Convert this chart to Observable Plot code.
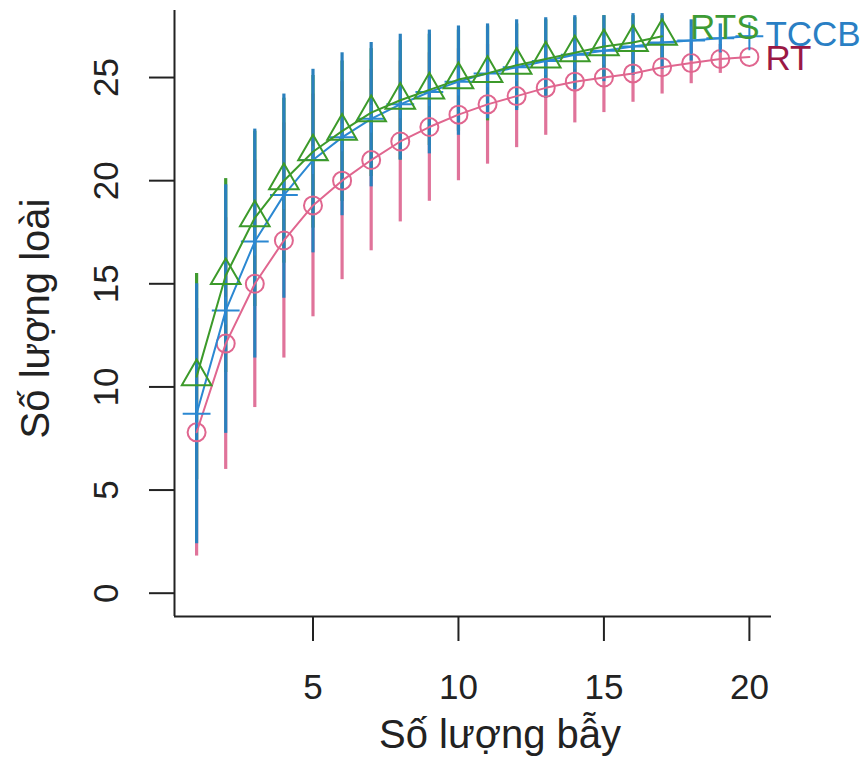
<!DOCTYPE html>
<html><head><meta charset="utf-8">
<script src="https://cdn.jsdelivr.net/npm/d3@7"></script>
<script src="https://cdn.jsdelivr.net/npm/@observablehq/plot@0.6"></script>
<style>body{margin:0;background:#fff}</style>
</head><body><div id="chart"></div>
<script>
const traps = [1,2,3,4,5,6,7,8,9,10,11,12,13,14,15,16,17,18,19,20];
const trapsRTS = [1,2,3,4,5,6,7,8,9,10,11,12,13,14,15,16,17];
const xTicks = [5,10,15,20];
const yTicks = [0,5,10,15,20,25];

const rtMean = [7.8,12.1,15.0,17.1,18.8,20.0,21.0,21.9,22.6,23.2,23.7,24.1,24.5,24.8,25.0,25.2,25.5,25.7,25.9,26.0];
const rtLo   = [1.8,6.0,9.0,11.4,13.4,15.2,16.6,18.0,19.0,20.0,20.8,21.6,22.2,22.8,23.3,23.8,24.2,24.7,25.2,26.0];
const rtHi   = [13.8,18.2,21.0,22.8,24.2,24.8,25.4,25.8,26.2,26.4,26.6,26.6,26.8,26.8,26.7,26.6,26.8,26.7,26.6,26.0];

const rtsMean = [10.5,15.4,18.2,20.0,21.4,22.4,23.3,23.9,24.4,24.9,25.2,25.6,25.9,26.2,26.5,26.7,27.0];
const rtsLo   = [5.5,10.7,13.9,16.0,17.7,19.0,20.2,21.0,21.7,22.4,22.9,23.5,24.0,24.5,25.0,25.4,25.9];
const rtsHi   = [15.5,20.1,22.4,24.0,25.1,25.8,26.4,26.8,27.1,27.3,27.5,27.6,27.8,27.9,28.0,28.0,28.0];

const tccbMean = [8.7,13.7,17.05,19.3,21.0,22.1,23.0,23.7,24.3,24.8,25.2,25.5,25.8,26.1,26.3,26.5,26.7,26.8,26.9,27.0];
const tccbLo   = [2.4,7.75,11.4,14.3,16.5,18.3,19.7,21.0,21.3,22.2,23.0,23.4,24.0,24.4,24.8,25.1,25.4,25.8,26.2,27.0];
const tccbHi   = [15.0,19.8,22.5,24.2,25.4,26.2,26.7,27.1,27.3,27.5,27.6,27.8,27.9,28.0,28.0,28.1,28.1,27.8,27.6,27.0];

const seriesNames = ["RT","RTS","TCCB"];
const labelY = {RT: 25.9, RTS: 27.4, TCCB: 27.05};

const rows = (xs, mean, lo, hi) => xs.map((t, i) => ({trap: t, mean: mean[i], lo: lo[i], hi: hi[i]}));
const rt = rows(traps, rtMean, rtLo, rtHi);
const rts = rows(trapsRTS, rtsMean, rtsLo, rtsHi);
const tccb = rows(traps, tccbMean, tccbLo, tccbHi);

const C = {
  rtBar: "#e0739a", rtLine: "#e0668f", rtLab: "#9a1845",
  rtsBar: "#3f9a30", rtsLine: "#3c9a2a", rtsLab: "#3d9b35",
  tccbBar: "#2a80bd", tccbLine: "#2b88d2", tccbLab: "#2a7fc4"
};
const ink = "#222";
const font = "'Liberation Sans', Arial, Helvetica, sans-serif";

const chart = Plot.plot({
  width: 861, height: 758,
  marginLeft: 174, marginRight: 90, marginTop: 10, marginBottom: 142,
  x: {domain: [0.24, 20.76], axis: null},
  y: {domain: [-1.13, 28.25], axis: null},
  style: {fontFamily: font, background: "white", overflow: "visible"},
  marks: [
    Plot.ruleX(rt, {x: "trap", y1: "lo", y2: "hi", stroke: C.rtBar, strokeWidth: 3.2}),
    Plot.ruleX(rts, {x: "trap", y1: "lo", y2: "hi", stroke: C.rtsBar, strokeWidth: 3.2}),
    Plot.ruleX(tccb, {x: "trap", y1: "lo", y2: "hi", stroke: C.tccbBar, strokeWidth: 3.2}),
    Plot.line(rt, {x: "trap", y: "mean", stroke: C.rtLine, strokeWidth: 2}),
    Plot.dot(rt, {x: "trap", y: "mean", symbol: "circle", r: 9, stroke: C.rtLine, strokeWidth: 2, fill: "none"}),
    Plot.line(tccb, {x: "trap", y: "mean", stroke: C.tccbLine, strokeWidth: 2}),
    Plot.dot(tccb, {x: "trap", y: "mean", symbol: "plus", r: 9, stroke: C.tccbLine, strokeWidth: 2}),
    Plot.line(rts, {x: "trap", y: "mean", stroke: C.rtsLine, strokeWidth: 2}),
    Plot.dot(rts, {x: "trap", y: "mean", symbol: "triangle", r: 11, stroke: C.rtsLine, strokeWidth: 2, fill: "none"}),
    Plot.text(["RTS"], {x: 17, y: labelY.RTS, text: d => d, textAnchor: "start", dx: 28, fontSize: 35, fill: C.rtsLab}),
    Plot.text(["TCCB"], {x: 20, y: labelY.TCCB, text: d => d, textAnchor: "start", dx: 16, fontSize: 35, fill: C.tccbLab}),
    Plot.text(["RT"], {x: 20, y: labelY.RT, text: d => d, textAnchor: "start", dx: 16, fontSize: 35, fill: C.rtLab}),
    Plot.ruleX([0.24], {stroke: ink, strokeWidth: 2}),
    Plot.ruleY([-1.13], {stroke: ink, strokeWidth: 2}),
    Plot.axisX(xTicks, {tickSize: 25, tickPadding: 33, fontSize: 35, label: null, stroke: ink, strokeWidth: 2, fill: ink}),
    Plot.axisY(yTicks, {tickSize: 25, tickFormat: () => "", label: null, stroke: ink, strokeWidth: 2}),
    Plot.text(yTicks, {y: d => d, text: d => String(d), frameAnchor: "left", textAnchor: "middle", lineAnchor: "middle", dx: -68, rotate: -90, fontSize: 35, fill: ink}),
    Plot.text(["Số lượng bẫy"], {frameAnchor: "bottom", textAnchor: "middle", lineAnchor: "middle", dx: 27, dy: 119, text: d => d, fontSize: 40, fill: ink}),
    Plot.text(["Số lượng loài"], {frameAnchor: "left", textAnchor: "middle", lineAnchor: "middle", dx: -138, dy: 5, rotate: -90, text: d => d, fontSize: 40, fill: ink})
  ]
});
document.getElementById("chart").append(chart);
</script>
</body></html>
